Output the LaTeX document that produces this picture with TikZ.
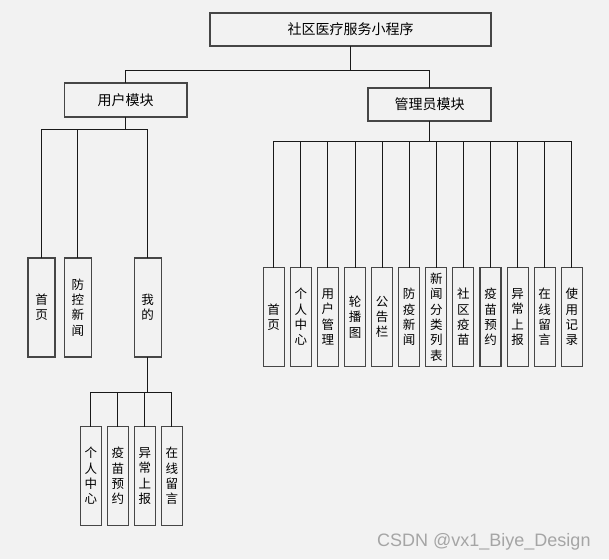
\documentclass[tikz,border=0pt]{standalone}
\usepackage{fontspec}
\setmainfont{Noto Sans CJK SC}
\newfontfamily\markfont{Liberation Sans}
\usetikzlibrary{positioning}
\definecolor{Canvas}{RGB}{242,242,242}
\definecolor{Frame}{RGB}{70,70,70}
\definecolor{Wire}{RGB}{25,25,25}
\definecolor{Mark}{RGB}{165,165,165}

\begin{document}
\begin{tikzpicture}[x=1pt,y=-1pt,
    topbox/.style={draw=Frame,line width=1.1pt,fill=Canvas,inner sep=0pt,outer sep=0pt,font=\fontsize{14}{16}\selectfont},
    colbox/.style={draw=Frame,line width=1.1pt,fill=Canvas,inner sep=0pt,outer sep=0pt,minimum height=99pt,align=center,font=\fontsize{12.5}{15.3}\selectfont},
    narrow/.style={colbox,minimum width=21pt},
    wide/.style={colbox,minimum width=27pt},
    wire/.style={draw=Wire,line width=1pt}
]

% Canvas
\path[fill=Canvas] (0,0) rectangle (609,559);

% Top levels
\node[topbox,minimum width=281pt,minimum height=33pt] (root) at (350.5,29.5) {社区医疗服务小程序};
\node[topbox,minimum width=122.5pt,minimum height=34pt] (user) at (125.7,100) {用户模块};
\node[topbox,minimum width=123pt,minimum height=33pt] (admin) at (429.5,104.5) {管理员模块};

% User module
\node[wide] (u1) at (41.5,307.5) {首\\页};
\node[wide] (u2) at (77.8,307.5) {防\\控\\新\\闻};
\node[wide] (u3) at (147.7,307.5) {我\\的};

% Under "mine"
\node[narrow] (m1) at (90.8,476) {个\\人\\中\\心};
\node[narrow,right=6pt of m1] (m2) {疫\\苗\\预\\约};
\node[narrow,right=6pt of m2] (m3) {异\\常\\上\\报};
\node[narrow,right=6pt of m3] (m4) {在\\线\\留\\言};

% Admin module
\node[narrow] (a1) at (273.7,317) {首\\页};
\node[narrow,right=6.1pt of a1] (a2) {个\\人\\中\\心};
\node[narrow,right=6.1pt of a2] (a3) {用\\户\\管\\理};
\node[narrow,right=6.1pt of a3] (a4) {轮\\播\\图};
\node[narrow,right=6.1pt of a4] (a5) {公\\告\\栏};
\node[narrow,right=6.1pt of a5] (a6) {防\\疫\\新\\闻};
\node[narrow,right=6.1pt of a6] (a7) {新\\闻\\分\\类\\列\\表};
\node[narrow,right=6.1pt of a7] (a8) {社\\区\\疫\\苗};
\node[narrow,right=6.1pt of a8] (a9) {疫\\苗\\预\\约};
\node[narrow,right=6.1pt of a9] (a10) {异\\常\\上\\报};
\node[narrow,right=6.1pt of a10] (a11) {在\\线\\留\\言};
\node[narrow,right=6.1pt of a11] (a12) {使\\用\\记\\录};

% Junctions
\coordinate (j0) at ([yshift=-25pt]root.south);
\coordinate (j1) at ([yshift=-12pt]user.south);
\coordinate (j2) at ([yshift=-20pt]admin.south);
\coordinate (j3) at ([yshift=-35pt]u3.south);

% Connectors
\draw[wire] (root.south) -- (j0) -| (user.north);
\draw[wire] (j0) -| (admin.north);

\draw[wire] (user.south) -- (j1) -| (u1.north);
\draw[wire] (j1) -| (u2.north);
\draw[wire] (j1) -| (u3.north);

\draw[wire] (u3.south) -- (j3) -| (m1.north);
\draw[wire] (j3) -| (m2.north);
\draw[wire] (j3) -| (m3.north);
\draw[wire] (j3) -| (m4.north);

\draw[wire] (admin.south) -- (j2) -| (a1.north);
\draw[wire] (j2) -| (a2.north);
\draw[wire] (j2) -| (a3.north);
\draw[wire] (j2) -| (a4.north);
\draw[wire] (j2) -| (a5.north);
\draw[wire] (j2) -| (a6.north);
\draw[wire] (j2) -| (a7.north);
\draw[wire] (j2) -| (a8.north);
\draw[wire] (j2) -| (a9.north);
\draw[wire] (j2) -| (a10.north);
\draw[wire] (j2) -| (a11.north);
\draw[wire] (j2) -| (a12.north);

% Watermark
\node[font=\markfont\fontsize{18}{20}\selectfont,text=Mark,anchor=base west,inner sep=0pt] (mark) at (377,546) {CSDN @vx1\_Biye\_Design};

\end{tikzpicture}
\end{document}
